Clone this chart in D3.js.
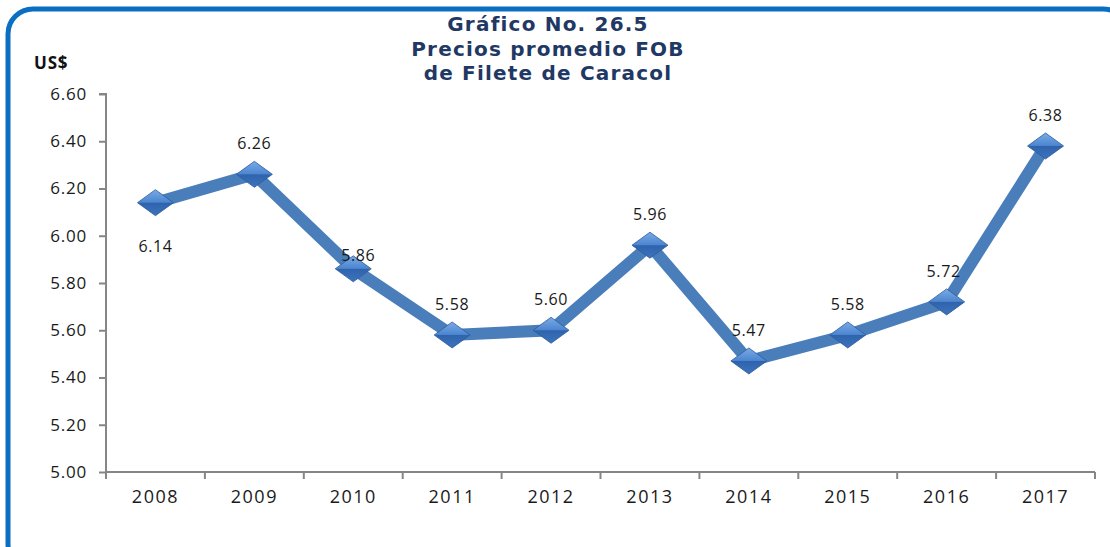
<!DOCTYPE html>
<html>
<head>
<meta charset="utf-8">
<script src="https://cdn.jsdelivr.net/npm/d3@7"></script>
<style>
  body { margin: 0; background: #fff; }
  svg { display: block; }
  .tick text { font-family: "Open Sans", "Liberation Sans", sans-serif; fill: #1a1a1a; }
  .title { font-family: "DejaVu Sans", sans-serif; font-weight: bold; font-size: 20px; letter-spacing: 1.2px; fill: #1F3864; }
  .vlabel { font-family: "Open Sans", "Liberation Sans", sans-serif; font-size: 16px; letter-spacing: 0.6px; fill: #1a1a1a; }
</style>
</head>
<body>
<div class="chart"></div>
<script>
// data
var years = ["2008", "2009", "2010", "2011", "2012", "2013", "2014", "2015", "2016", "2017"];
var prices = [6.14, 6.26, 5.86, 5.58, 5.60, 5.96, 5.47, 5.58, 5.72, 6.38];
var yTicks = [5.00, 5.20, 5.40, 5.60, 5.80, 6.00, 6.20, 6.40, 6.60];
var titleLines = ["Gráfico No. 26.5", "Precios promedio FOB", "de Filete de Caracol"];

var width = 1110, height = 547;
var margin = { left: 106, right: 15, top: 94, bottom: 75 };

var svg = d3.select(".chart").append("svg")
  .attr("width", width)
  .attr("height", height);

// gradient for the diamonds
var defs = svg.append("defs");
var grad = defs.append("linearGradient").attr("id", "dia")
  .attr("x1", 0).attr("y1", 0).attr("x2", 0).attr("y2", 1);
grad.append("stop").attr("offset", "0%").attr("stop-color", "#79aae6");
grad.append("stop").attr("offset", "48%").attr("stop-color", "#4d86d0");
grad.append("stop").attr("offset", "52%").attr("stop-color", "#2f64ad");
grad.append("stop").attr("offset", "100%").attr("stop-color", "#3d73bd");

// outer blue frame
svg.append("rect")
  .attr("x", 8).attr("y", 9)
  .attr("width", 1120).attr("height", 560)
  .attr("rx", 25)
  .attr("fill", "none")
  .attr("stroke", "#0a6fc2")
  .attr("stroke-width", 5);

var x = d3.scaleBand()
  .domain(years)
  .range([margin.left, 1095]);

var y = d3.scaleLinear()
  .domain([5.0, 6.6])
  .range([472, 94]);

// y axis
var yAxis = svg.append("g")
  .attr("transform", "translate(" + margin.left + ",0)")
  .call(d3.axisLeft(y).tickValues(yTicks).tickFormat(d3.format(".2f")).tickSize(7).tickPadding(12));
yAxis.selectAll("line, path").attr("stroke", "#868686").attr("stroke-width", 2);
yAxis.select(".domain").attr("d", "M-7,94H0V472");
yAxis.selectAll(".tick text").style("font-size", "17px").style("letter-spacing", "0.8px");

// x axis
var xAxis = svg.append("g")
  .attr("transform", "translate(0,472)")
  .call(d3.axisBottom(x).tickSize(0).tickPadding(18));
xAxis.selectAll("line, path").attr("stroke", "#868686").attr("stroke-width", 2);
xAxis.select(".domain").attr("d", "M" + margin.left + ",0H1095");
xAxis.selectAll(".tick text").style("font-size", "18px").style("letter-spacing", "1.5px");
// tick marks between categories
xAxis.selectAll(".sep")
  .data(years.map(function (d) { return x(d); }).concat([1095]))
  .enter().append("line")
  .attr("x1", function (d) { return d; })
  .attr("x2", function (d) { return d; })
  .attr("y1", 0).attr("y2", 7)
  .attr("stroke", "#868686").attr("stroke-width", 2);

// title
svg.selectAll(".title")
  .data(titleLines)
  .enter().append("text")
  .attr("class", "title")
  .attr("x", 548)
  .attr("y", function (d, i) { return 31 + i * 24.5; })
  .attr("text-anchor", "middle")
  .text(function (d) { return d; });

svg.append("text")
  .attr("x", 34).attr("y", 69)
  .attr("font-family", "Open Sans, Liberation Sans, sans-serif")
  .attr("font-weight", "bold")
  .attr("font-size", 17)
  .attr("letter-spacing", "0.8px")
  .attr("fill", "#111")
  .text("US$");

var cx = function (i) { return x(years[i]) + x.bandwidth() / 2; };

// the line
var line = d3.line()
  .x(function (d, i) { return cx(i); })
  .y(function (d) { return y(d); });

svg.append("path")
  .datum(prices)
  .attr("d", line)
  .attr("fill", "none")
  .attr("stroke", "#4a7ebb")
  .attr("stroke-width", 12)
  .attr("stroke-linejoin", "miter");

// diamond markers
var mk = svg.selectAll(".mk")
  .data(prices)
  .enter().append("g")
  .attr("transform", function (d, i) { return "translate(" + cx(i) + "," + y(d) + ")"; });

mk.append("path")
  .attr("d", "M-18,0L0,-13L18,0L0,13Z")
  .attr("fill", "url(#dia)")
  .attr("stroke", "#2c5c9a")
  .attr("stroke-width", 0.8);

// value labels
var labelOffset = [[0, 49], [0, -25], [5, -8], [0, -25], [0, -25], [0, -25], [0, -25], [0, -25], [-3, -25], [0, -25]];

svg.selectAll(".vlabel")
  .data(prices)
  .enter().append("text")
  .attr("class", "vlabel")
  .attr("x", function (d, i) { return cx(i) + labelOffset[i][0]; })
  .attr("y", function (d, i) { return y(d) + labelOffset[i][1]; })
  .attr("text-anchor", "middle")
  .text(function (d) { return d.toFixed(2); });
</script>
</body>
</html>
